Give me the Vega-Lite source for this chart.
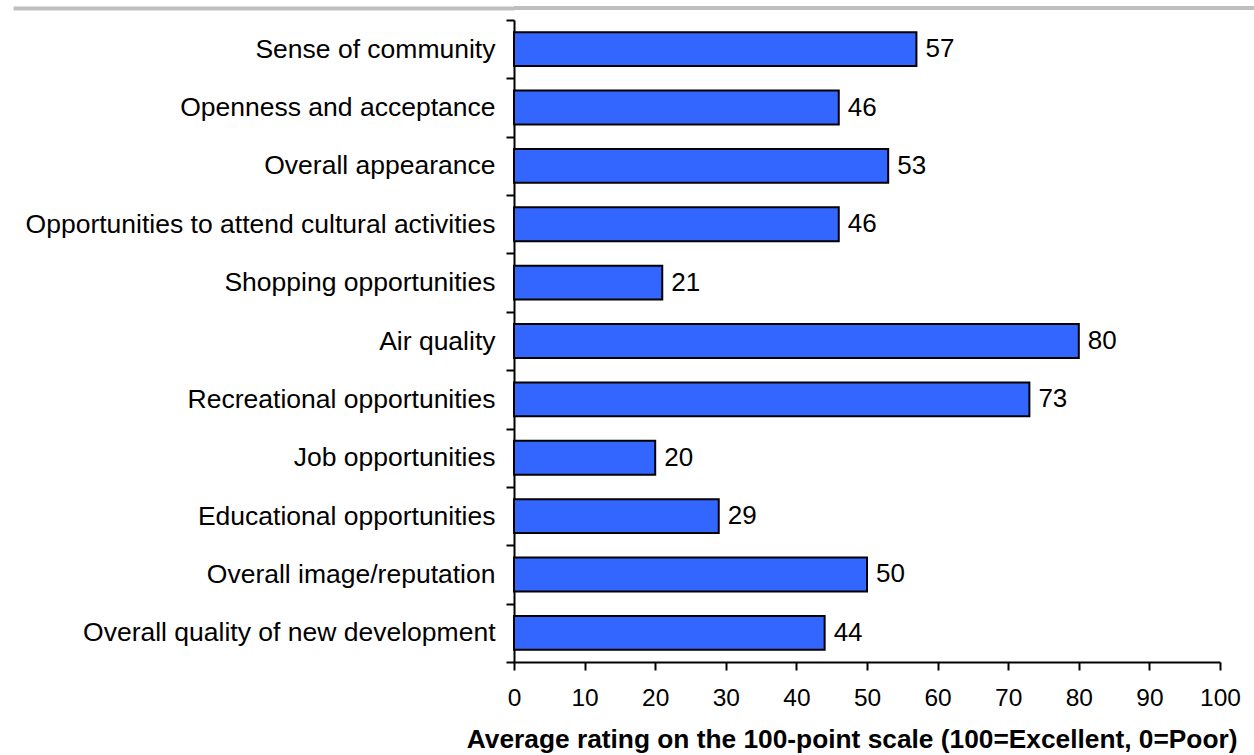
{
  "$schema": "https://vega.github.io/schema/vega-lite/v6.json",
  "padding": {"left": 11, "top": 6, "right": 0, "bottom": 0},
  "background": "white",
  "config": {
    "font": "Liberation Sans",
    "view": {"stroke": null},
    "axis": {"grid": false}
  },
  "spacing": -3,
  "vconcat": [
    {
      "width": 740,
      "height": 4,
      "view": {"fill": "#BFBFBF", "stroke": null},
      "data": {"values": [{"k": "a"}]},
      "mark": {"type": "point", "opacity": 0, "size": 1},
      "encoding": {
        "y": {
          "field": "k",
          "type": "nominal",
          "axis": {
            "title": null,
            "labels": false,
            "domain": false,
            "ticks": true,
            "tickSize": 501,
            "tickWidth": 4,
            "tickColor": "#BFBFBF"
          }
        }
      }
    },
    {
      "width": 706,
      "height": 642,
      "data": {
        "values": [
          {"item": "Sense of community", "rating": 57},
          {"item": "Openness and acceptance", "rating": 46},
          {"item": "Overall appearance ", "rating": 53},
          {"item": "Opportunities to attend cultural activities", "rating": 46},
          {"item": "Shopping opportunities", "rating": 21},
          {"item": "Air quality", "rating": 80},
          {"item": "Recreational opportunities", "rating": 73},
          {"item": "Job opportunities", "rating": 20},
          {"item": "Educational opportunities", "rating": 29},
          {"item": "Overall image/reputation ", "rating": 50},
          {"item": "Overall quality of new development", "rating": 44}
        ]
      },
      "encoding": {
        "y": {
          "field": "item",
          "type": "nominal",
          "sort": null,
          "scale": {"paddingInner": 0, "paddingOuter": 0},
          "axis": {
            "title": null,
            "domainColor": "black",
            "domainWidth": 2,
            "tickColor": "black",
            "tickWidth": 2,
            "tickSize": 8,
            "tickBand": "extent",
            "labelFontSize": 26.5,
            "labelColor": "black",
            "labelPadding": 11,
            "labelLimit": 700
          }
        },
        "x": {
          "field": "rating",
          "type": "quantitative",
          "scale": {"domain": [0, 100], "nice": false},
          "axis": {
            "title": "Average rating on the 100-point scale (100=Excellent, 0=Poor)",
            "titleFontSize": 26.3,
            "titleFontWeight": "bold",
            "titleColor": "black",
            "titleX": 723,
            "titleY": 64,
            "titleAlign": "right",
            "titleBaseline": "top",
            "values": [0, 10, 20, 30, 40, 50, 60, 70, 80, 90, 100],
            "domainColor": "black",
            "domainWidth": 2,
            "tickColor": "black",
            "tickWidth": 2,
            "tickSize": 8,
            "labelFontSize": 24.5,
            "labelColor": "black",
            "labelPadding": 16,
            "labelFlush": false
          }
        }
      },
      "layer": [
        {
          "mark": {"type": "bar", "fill": "#3366FF", "stroke": "black", "strokeWidth": 2, "height": {"band": 0.58}}
        },
        {
          "mark": {"type": "text", "align": "left", "baseline": "middle", "dx": 9, "fontSize": 26, "color": "black"},
          "encoding": {"text": {"field": "rating", "type": "quantitative"}}
        }
      ]
    }
  ]
}
